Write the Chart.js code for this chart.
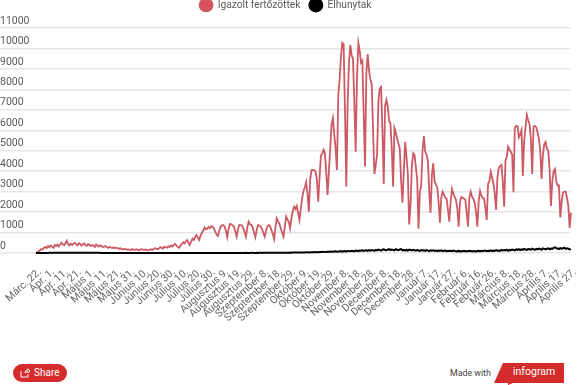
<!DOCTYPE html>
<html>
<head>
<meta charset="utf-8">
<title>Igazolt fertőzöttek</title>
<script src="https://cdn.jsdelivr.net/npm/chart.js@4"></script>
<style>
  html, body { margin: 0; padding: 0; background: #fff; overflow: hidden; }
  body { width: 578px; height: 385px; position: relative; font-family: Roboto, sans-serif; }
  #myChart { position: absolute; left: 0; top: 0; }
  #share {
    position: absolute; left: 13px; top: 364px; width: 54px; height: 18px;
    background: #d42b2b; border-radius: 9px; color: #fff; font-size: 10px; line-height: 18px;
  }
  #share svg { position: absolute; left: 7px; top: 4px; }
  #share span { position: absolute; left: 21px; }
  #made { position: absolute; left: 450px; top: 367px; font-size: 8.8px; line-height: 12px; color: #444; }
  #logo { position: absolute; left: 494px; top: 363px; }
</style>
</head>
<body>
<canvas id="myChart" width="578" height="345"></canvas>
<div id="share">
  <svg width="10" height="10" viewBox="0 0 10 10"><path d="M1 3v6h7V6M5 5c0-2 1-3 3-3V0.8L10 3 8 5V3.8C6.500 3.800 5.500 4 5 5z" fill="none" stroke="#fff" stroke-width="1"/></svg>
  <span>Share</span>
</div>
<div id="made">Made with</div>
<svg id="logo" width="72" height="22" viewBox="0 0 72 22">
  <polygon points="9,0 70,0 70,20 19,20 14,22 14,20 0,20" fill="#d42b2b"/>
  <text x="19" y="12" font-family="Roboto, sans-serif" font-size="10.500" fill="#fff">infogram</text>
</svg>
<script>
const tickLabels = [
    "Márc. 22.", "Ápr. 1.", "Ápr. 11.", "Ápr. 21.", "Május 1.", "Május 11.", "Május 21.", "Május 31.",
    "Június 10.", "Június 20.", "Június 30.", "Július 10.", "Július 20.", "Július 30.",
    "Augusztus 9.", "Augusztus 19.", "Augusztus 29.", "Szeptember 8.", "Szeptember 18.", "Szeptember 29.",
    "Október 9.", "Október 19.", "Október 29.", "November 8.", "November 18.", "November 28.",
    "December 8.", "December 18.", "December 28.", "Január 7.", "Január 17.", "Január 27.",
    "Február 6.", "Február 16.", "Február 26.", "Március 8.", "Március 18.", "Március 28.",
    "Április 7.", "Április 17.", "Április 27."
];

const cases = [
    0, 40, 90, 130, 190, 170, 260, 300, 240, 340,
    280, 360, 300, 250, 390, 340, 420, 320, 400, 500,
    420, 380, 480, 600, 430, 370, 450, 390, 470, 500,
    420, 370, 480, 440, 360, 420, 470, 380, 350, 430,
    400, 340, 390, 370, 300, 420, 350, 310, 380, 330,
    290, 310, 340, 280, 250, 300, 270, 240, 280, 230,
    260, 240, 200, 230, 210, 170, 200, 190, 160, 180,
    170, 150, 190, 160, 150, 180, 170, 140, 170, 190,
    160, 150, 170, 140, 130, 160, 180, 150, 190, 240,
    210, 180, 230, 290, 250, 220, 310, 280, 260, 330,
    290, 370, 320, 400, 440, 360, 300, 250, 360, 430,
    520, 470, 560, 640, 500, 390, 560, 700, 640, 780,
    880, 760, 640, 850, 980, 1100, 1250, 1150, 1180, 1280,
    1220, 1310, 1280, 1200, 1040, 900,
    830, 1080, 1280, 1340, 1370, 1300, 1100,
    770, 1180, 1420, 1400, 1350, 1280, 1050,
    800, 1150, 1370, 1360, 1340, 1200, 1030,
    800, 1250, 1530, 1400, 1380, 1260, 1000,
    770, 1120, 1360, 1340, 1290, 1180, 980,
    800, 1100, 1300, 1370, 1320, 1120, 950,
    680, 1250, 1700, 1560, 1430, 1200, 1000,
    800, 1250, 1780, 1640, 1530, 1210,
    1700, 2050, 2260, 2150, 2300, 1950, 1610,
    2200, 2700, 3030, 3200, 3450, 2900, 2020,
    3600, 4050, 4060, 4040, 3960, 3600, 2510,
    3700, 4750, 4850, 5050, 4900, 3900, 2840,
    4050, 5100, 6300, 6600, 5800, 5100, 4060,
    7700, 8500, 9600, 10270, 10200, 7000, 3240,
    7300, 9300, 10170, 9650, 9500, 7400, 4950,
    8600, 10270, 9900, 9300, 9400, 6800, 4220,
    8800, 9730, 8900, 8500, 8250, 6000, 3860,
    4300, 4800, 7400, 8050, 8120, 6000, 3370,
    7200, 7480, 7150, 6450, 6350, 5100, 3240,
    6110, 5900, 5600, 5350, 5100, 3500, 2460,
    4000, 5440, 4700, 3900, 1400,
    2300, 4200, 4880, 4800, 4200, 3600, 1190,
    3000, 3300, 5000, 5720, 4950, 4800, 4500, 3000, 1970,
    3800, 4400, 3500, 3350, 3220, 2500, 1480,
    2700, 3000, 2850, 2700, 2650, 2100, 1530,
    2500, 3130, 2900, 2750, 2600, 2200, 1290,
    2500, 2740, 2700, 2650, 2600, 2000, 1290,
    2700, 3000, 2750, 2650, 2450, 2000, 1290,
    2550, 3030, 2800, 2700, 2650, 2200, 1610,
    3400, 3500, 3980, 3700, 3400, 2900, 2100,
    3700, 4150, 4250, 4300, 3500, 2260,
    4500, 4700, 5200, 5050, 4950, 4800, 2970,
    6110, 6220, 6200, 5650, 5800, 6000, 3770,
    5500, 6150, 6750, 6500, 6300, 5600, 3860,
    6190, 6210, 6150, 5900, 5600, 5000, 3620,
    4800, 5300, 5430, 5100, 5000, 4100, 2300,
    3500, 4000, 4110, 3500, 3300, 3300, 1740,
    2500, 2950, 3000, 3000, 2700, 2300, 1220, 1970
];

const deaths = [
    0, 1, 1, 1, 2, 3, 2, 4, 5, 6,
    7, 8, 6, 9, 10, 11, 8, 13, 11, 12,
    14, 13, 12, 13, 14, 15, 13, 12, 14, 10,
    10, 12, 13, 11, 10, 14, 12, 10, 11, 9,
    10, 8, 9, 11, 8, 7, 9, 8, 5, 6,
    5, 6, 4, 5, 6, 5, 4, 3, 4, 3,
    3, 5, 3, 4, 2, 3, 4, 2, 2, 3,
    2, 1, 3, 2, 1, 2, 1, 1, 2, 1,
    1, 0, 1, 2, 0, 1, 1, 0, 1, 2,
    1, 0, 1, 0, 2, 1, 0, 1, 0, 1,
    1, 2, 0, 1, 0, 1, 1, 2, 0, 1,
    1, 0, 2, 1, 1, 0, 1, 2, 1, 0,
    2, 1, 1, 0, 1, 3, 1, 2, 1, 0,
    1, 2, 1, 3, 0, 1, 2, 2, 3, 1,
    2, 3, 2, 1, 4, 2, 3, 5, 4, 3,
    4, 6, 4, 5, 4, 3, 5, 7, 5, 4,
    6, 12, 7, 6, 5, 8, 6, 9, 7, 6,
    9, 8, 10, 7, 9, 11, 8, 12, 10, 9,
    13, 11, 14, 12, 15, 13, 17, 14, 18, 16,
    20, 18, 22, 19, 24, 21, 26, 23, 28, 25,
    30, 27, 33, 35, 29, 38, 41, 36, 44, 40,
    45, 39, 48, 52, 47, 60, 55, 50, 62, 58,
    70, 65, 60, 75, 85, 62, 78, 72, 90, 68,
    88, 95, 70, 100, 92, 85, 108, 98, 80, 115,
    105, 92, 120, 110, 130, 98, 125, 135, 105, 145,
    118, 140, 128, 108, 155, 130, 170, 142, 118, 160,
    178, 150, 135, 165, 190, 145, 172, 155, 130, 185,
    160, 142, 175, 195, 130, 150, 120, 165, 115, 170,
    145, 125, 160, 135, 110, 150, 120, 105, 140, 118,
    130, 105, 145, 115, 95, 135, 110, 128, 100, 120,
    90, 125, 105, 130, 95, 115, 120, 85, 110, 95,
    105, 85, 120, 100, 90, 80, 110, 70, 95, 85,
    105, 75, 100, 90, 110, 85, 95, 80, 100, 70,
    95, 110, 80, 105, 90, 115, 125, 85, 110, 100,
    130, 95, 120, 105, 140, 115, 125, 100, 150, 120,
    140, 125, 160, 110, 150, 135, 170, 145, 125, 175,
    155, 190, 140, 175, 160, 200, 170, 150, 195, 180,
    165, 210, 185, 150, 200, 175, 215, 190, 160, 225,
    200, 175, 210, 230, 185, 220, 205, 250, 280, 235,
    220, 195, 240, 210, 230, 260, 200, 225, 215, 170, 190
];

// a label on every 10th day, the rest stay empty
const labels = cases.map((v, i) => (i % 10 === 0 ? tickLabels[i / 10] : ""));

const textColor = "#666666";
const gridColor = "#e6e6e6";

// keeps the legend strip at a fixed height, chart starts under it
const legendStrip = {
    id: "legendStrip",
    beforeInit(chart) {
        const fit = chart.legend.fit;
        chart.legend.fit = function () {
            fit.call(this);
            this.height = 37;
        };
    }
};

new Chart("myChart", {
    type: "line",
    plugins: [legendStrip],
    data: {
        labels: labels,
        datasets: [
            {
                label: "Igazolt fertőzöttek",
                data: cases,
                borderColor: "#cc5a64",
                backgroundColor: "#d9515b",
                borderWidth: 1.8,
                pointRadius: 0,
                tension: 0,
                clip: false,
                order: 2
            },
            {
                label: "Elhunytak",
                data: deaths,
                borderColor: "#000000",
                backgroundColor: "#000000",
                borderWidth: 2,
                pointRadius: 0,
                tension: 0,
                clip: false,
                order: 1
            }
        ]
    },
    options: {
        responsive: false,
        animation: false,
        layout: { padding: { right: 7, top: -9 } },
        plugins: {
            tooltip: { enabled: false },
            legend: {
                position: "top",
                labels: {
                    usePointStyle: true,
                    pointStyleWidth: 13,
                    boxHeight: 9,
                    padding: 9,
                    color: "#5a5a5a",
                    font: { family: "Roboto", size: 10.2 },
                    sort: (a, b) => a.datasetIndex - b.datasetIndex
                }
            }
        },
        scales: {
            x: {
                // rotated labels may hang past the plot, no extra side padding
                afterFit(scale) {
                    scale.height = 92;
                    scale.paddingLeft = 0;
                    scale.paddingRight = 0;
                },
                grid: { display: false },
                border: { display: false },
                ticks: {
                    autoSkip: false,
                    minRotation: 42,
                    maxRotation: 42,
                    padding: 5,
                    labelOffset: 4,
                    color: textColor,
                    font: { family: "Roboto", size: 10.5 }
                }
            },
            y: {
                min: 0,
                max: 11000,
                afterFit(scale) { scale.width = 36; },
                border: { display: false },
                grid: { color: gridColor, lineWidth: 1.5, tickLength: 36, tickColor: gridColor },
                ticks: {
                    stepSize: 1000,
                    crossAlign: "far",
                    labelOffset: -7,
                    color: "#5a5a5a",
                    font: { family: "Roboto", size: 10.5 },
                    callback: (v) => String(v)
                }
            }
        }
    }
});
</script>
</body>
</html>
